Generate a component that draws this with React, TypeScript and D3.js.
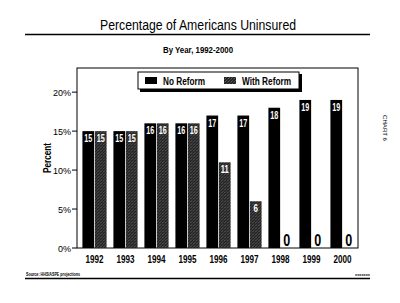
import React from "react";
import * as d3 from "d3";

const years = ["1992", "1993", "1994", "1995", "1996", "1997", "1998", "1999", "2000"];
const noReform = [15, 15, 16, 16, 17, 17, 18, 19, 19];
const withReform = [15, 15, 16, 16, 11, 6, 0, 0, 0];
const yTicks = [0, 5, 10, 15, 20];
const seriesNames = ["No Reform", "With Reform"];

const W = 400, H = 303;
const FONT = "'Liberation Sans', Arial, sans-serif";

type TP = {
  x: number; y: number; w?: number; size: number; anchor?: "start" | "middle" | "end";
  bold?: boolean; italic?: boolean; fill?: string; transform?: string; children: React.ReactNode;
};
function T({ x, y, w, size, anchor = "start", bold, italic, fill = "#000", transform, children }: TP) {
  return (
    <text
      x={x}
      y={y}
      transform={transform}
      textAnchor={anchor}
      fontSize={size}
      fontWeight={bold ? "bold" : "normal"}
      fontStyle={italic ? "italic" : "normal"}
      fill={fill}
      fontFamily={FONT}
      textLength={w}
      lengthAdjust={w ? "spacingAndGlyphs" : undefined}
    >
      {children}
    </text>
  );
}

export default function App() {
  const x0 = d3.scaleBand<string>().domain(years).range([79, 358]).paddingInner(0.22).paddingOuter(0.11);
  const x1 = d3.scaleBand<string>().domain(seriesNames).range([0, x0.bandwidth()]).paddingInner(0.06);
  const y = d3.scaleLinear().domain([0, 23.1]).range([248, 68]);
  const series = [noReform, withReform];

  return (
    <svg width={W} height={H} style={{ position: "absolute", left: 0, top: 0, background: "#fff" }}>
      <defs>
        <pattern id="dither" width="3" height="3" patternUnits="userSpaceOnUse">
          <rect width="3" height="3" fill="#222" />
          <rect x="0" y="0" width="1" height="1" fill="#666" />
          <rect x="2" y="1" width="1" height="1" fill="#444" />
          <rect x="1" y="2" width="1" height="1" fill="#555" />
        </pattern>
      </defs>
      <rect width={W} height={H} fill="#fff" />

      {/* Title */}
      <T x={198} y={30} w={196} size={14} anchor="middle">Percentage of Americans Uninsured</T>
      <line x1={25} x2={370} y1={34.5} y2={34.5} stroke="#000" strokeWidth={1.5} />
      <T x={198} y={53} w={70} size={9} anchor="middle" bold>By Year, 1992-2000</T>

      {/* Frame */}
      <rect x={77} y={68} width={281} height={180} fill="none" stroke="#000" strokeWidth={1} />

      {/* Y axis ticks */}
      {yTicks.map((t) => (
        <g key={t}>
          <line x1={72} x2={77} y1={y(t)} y2={y(t)} stroke="#000" />
          <text x={71} y={y(t) + 3.5} textAnchor="end" fontSize={9} fontFamily={FONT}>{t}%</text>
        </g>
      ))}
      <T x={0} y={0} w={30} size={11} anchor="middle" bold transform="translate(51,158) rotate(-90)">Percent</T>

      {/* Bars */}
      {years.map((yr, i) => (
        <g key={yr} transform={`translate(${x0(yr)},0)`}>
          {series.map((s, j) => {
            const v = s[i];
            const bx = x1(seriesNames[j])!;
            const bw = x1.bandwidth();
            return (
              <g key={j}>
                {v > 0 && (
                  <rect x={bx} y={y(v)} width={bw} height={y(0) - y(v)} fill={j === 0 ? "#000" : "url(#dither)"} />
                )}
                {v > 0 ? (
                  <T x={bx + bw / 2} y={y(v) + 11} w={String(v).length === 1 ? 4.5 : 8} size={11} anchor="middle" bold fill="#fff">{v}</T>
                ) : (
                  <T x={bx + bw / 2} y={246} w={7} size={17} anchor="middle" bold>{v}</T>
                )}
              </g>
            );
          })}
          <T x={x0.bandwidth() / 2} y={263} w={18} size={11} anchor="middle" bold>{yr}</T>
        </g>
      ))}

      {/* Legend */}
      <rect x={140} y={74} width={162} height={18} fill="#000" />
      <rect x={138} y={72} width={161} height={17} fill="#fff" stroke="#000" strokeWidth={1} />
      <rect x={145} y={77} width={12} height={7} fill="#000" />
      <T x={163} y={85} w={42} size={10} bold>{seriesNames[0]}</T>
      <rect x={224} y={77} width={12} height={7} fill="url(#dither)" />
      <T x={242} y={85} w={49} size={10} bold>{seriesNames[1]}</T>

      {/* Side label */}
      <T x={0} y={0} w={26} size={5} anchor="middle" transform="translate(383,128) rotate(90)">CHART 6</T>

      {/* Footer */}
      <T x={26} y={276} w={54} size={4.5} bold>Source:  HHS/ASPE projections</T>
      <T x={370} y={276} w={15} size={3.5} anchor="end" bold>xxxxxxx</T>
      <line x1={25} x2={370} y1={278.5} y2={278.5} stroke="#000" strokeWidth={1.5} />
    </svg>
  );
}
